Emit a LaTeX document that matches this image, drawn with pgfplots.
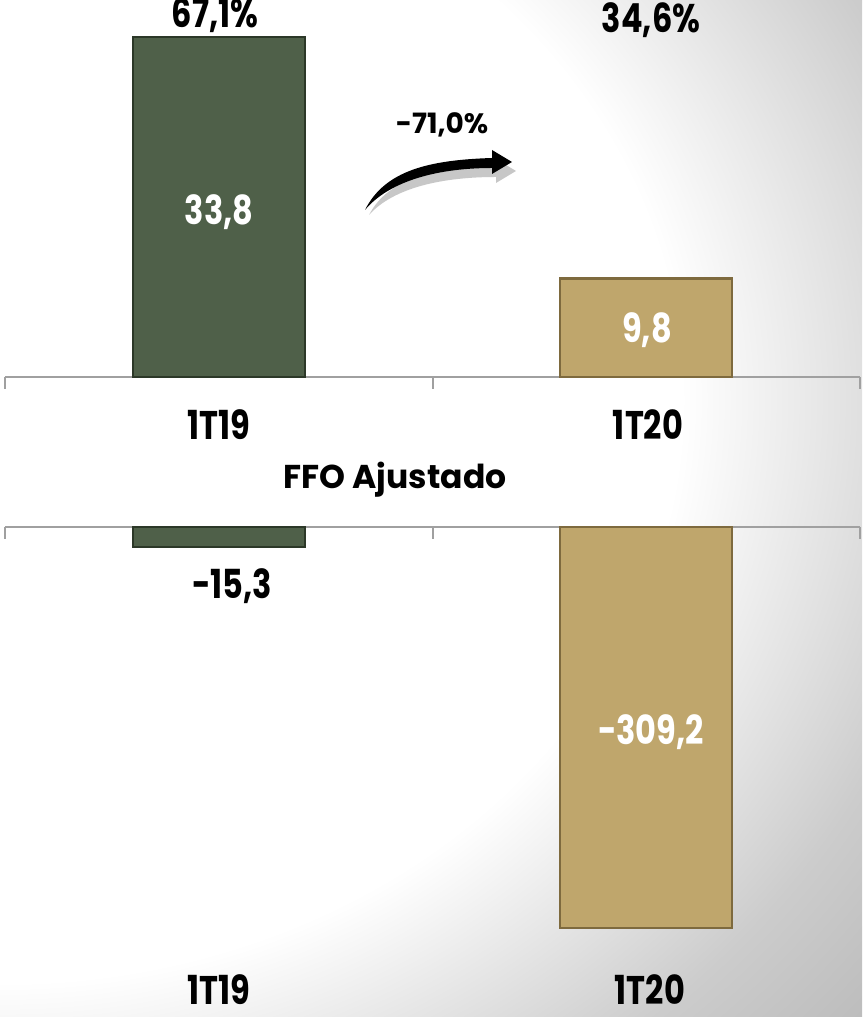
\documentclass[border=0pt]{standalone}
\usepackage{pgfplots}
\pgfplotsset{compat=1.18}
\usepackage{fontspec}
\setmainfont{Poppins}
\newfontfamily\condf[FakeStretch=0.8]{Poppins}
\definecolor{ffogreen}{HTML}{4F6049}
\definecolor{ffogreendark}{HTML}{2C3828}
\definecolor{ffotan}{HTML}{BFA66C}
\definecolor{ffotandark}{HTML}{7E6A3E}
\definecolor{axisgray}{HTML}{A0A0A0}
\pgfdeclareradialshading{bgshade}{\pgfpoint{0bp}{0bp}}{%
  color(0bp)=(white); color(290bp)=(white); color(415bp)=(black!20); color(490bp)=(black!27); color(560bp)=(black!30)}
\begin{document}
\begin{tikzpicture}
\useasboundingbox (0,0) rectangle (431pt,508.5pt);
\clip (0,0) rectangle (431pt,508.5pt);
\begin{scope}[shift={(0pt,308.5pt)}, xscale=1.17]
  \node[overlay, inner sep=0pt, outer sep=0pt, transform shape] at (0,0) {\pgfuseshading{bgshade}};
\end{scope}
% top panel
\begin{axis}[at={(2.5pt,320pt)}, anchor=south west, scale only axis,
  width=427.5pt, height=188.5pt, xmin=-0.5, xmax=1.5, ymin=0, ymax=37.5,
  clip=false, axis x line=bottom, axis y line=none,
  xtick={-0.5,0.5,1.5}, xticklabels={}, tick align=outside, major tick length=6pt,
  axis line style={-, axisgray, line width=1pt}, tick style={axisgray, line width=1pt}]
\addplot[ybar, bar width=86pt, bar shift=0pt, fill=ffogreen, draw=ffogreendark, line width=1.2pt] coordinates {(0,33.8)};
\addplot[ybar, bar width=86pt, bar shift=0pt, fill=ffotan, draw=ffotandark, line width=1.2pt] coordinates {(1,9.8)};
\end{axis}
% bottom panel
\begin{axis}[at={(2.5pt,0pt)}, anchor=south west, scale only axis,
  width=427.5pt, height=245pt, xmin=-0.5, xmax=1.5, ymin=-378, ymax=0,
  clip=false, axis x line=top, axis y line=none,
  xtick={-0.5,0.5,1.5}, xticklabels={}, tick align=inside, major tick length=6pt,
  axis line style={-, axisgray, line width=1pt}, tick style={axisgray, line width=1pt}]
\addplot[ybar, bar width=86pt, bar shift=0pt, fill=ffogreen, draw=ffogreendark, line width=1.2pt] coordinates {(0,-15.3)};
\addplot[ybar, bar width=86pt, bar shift=0pt, fill=ffotan, draw=ffotandark, line width=1.2pt] coordinates {(1,-309.2)};
\end{axis}
\begin{scope}[shift={(0pt,508.5pt)}, x=0.5pt, y=-0.5pt]
  \tikzset{cl/.style={font=\condf\bfseries\fontsize{20}{20}\selectfont, inner sep=0pt}}
  % arrow shadow and arrow
  \fill[black!22] (369,215) .. controls (389,177) and (434,169) .. (496,167) -- (496,159) -- (516,171) -- (496,183) -- (496,177) .. controls (444,177) and (394,187) .. (369,215) -- cycle;
  \fill[black] (365,210) .. controls (385,170) and (430,160) .. (492,158) -- (492,150) -- (512,162) -- (492,174) -- (492,168) .. controls (440,168) and (390,180) .. (365,210) -- cycle;
  \node[font=\bfseries\fontsize{14}{14}\selectfont, inner sep=0pt] at (442,125) {-71,0\%};
  \node[cl] at (215,15) {67,1\%};
  \node[cl] at (651,20) {34,6\%};
  \node[cl, text=white] at (219,212) {33,8};
  \node[cl, text=white] at (647,330) {9,8};
  \node[cl] at (219,425) {1T19};
  \node[cl] at (648,425) {1T20};
  \node[font=\bfseries\fontsize{16.5}{16.5}\selectfont, inner sep=0pt] at (395,480) {FFO Ajustado};
  \node[cl] at (232,586) {-15,3};
  \node[cl, text=white] at (651,732) {-309,2};
  \node[cl] at (219,990) {1T19};
  \node[cl] at (650,990) {1T20};
\end{scope}
\end{tikzpicture}
\end{document}
